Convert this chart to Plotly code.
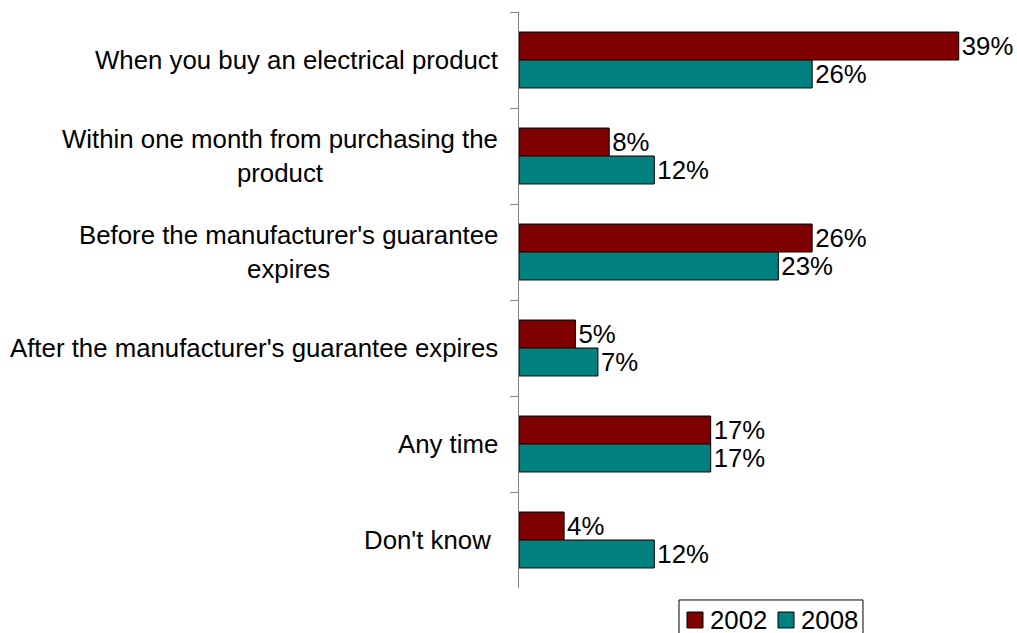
import plotly.graph_objects as go

categories = [
    "When you buy an electrical product",
    "Within one month from purchasing the<br>product",
    "Before the manufacturer's guarantee<br>expires",
    "After the manufacturer's guarantee expires",
    "Any time",
    "Don't know ",
]
keys = ["c1", "c2", "c3", "c4", "c5", "c6"]
series_names = ["2002", "2008"]
values_2002 = [39, 8, 26, 5, 17, 4]
values_2008 = [26, 12, 23, 7, 17, 12]
series_colors = ["#800000", "#008080"]

FONT = "Liberation Sans, Arial, sans-serif"
SIZE = 25.8

fig = go.Figure()
for name, vals, color in zip(series_names, [values_2002, values_2008], series_colors):
    fig.add_trace(go.Bar(
        y=keys, x=vals, name=name, orientation="h",
        marker=dict(color=color, line=dict(color="black", width=1)),
        text=[f"{v}%" for v in vals], textposition="outside",
        textfont=dict(size=SIZE, color="black", family=FONT),
        cliponaxis=False, showlegend=False,
    ))

# category labels, centred line-by-line and right-aligned against the axis
for k, label in zip(keys, categories):
    fig.add_annotation(
        x=0, y=k, xref="x", yref="y", text=label, showarrow=False,
        xanchor="right", yanchor="middle", align="center", xshift=-19,
        font=dict(size=SIZE, color="black", family=FONT),
    )

# boxed legend below the plot area (paper coordinates)
fig.add_shape(type="rect", xref="paper", yref="paper",
              x0=0.3548, x1=0.7627, y0=-0.095, y1=-0.0208,
              line=dict(color="black", width=1), fillcolor="white", layer="above")
legend_x = [0.3725, 0.5743]
sq_w = 0.0355
for name, color, lx in zip(series_names, series_colors, legend_x):
    fig.add_shape(type="rect", xref="paper", yref="paper",
                  x0=lx, x1=lx + sq_w, y0=-0.0694, y1=-0.0417,
                  line=dict(color="black", width=1), fillcolor=color, layer="above")
    fig.add_annotation(x=lx + sq_w + 0.011, y=-0.0556, xref="paper", yref="paper",
                       text=name, showarrow=False, xanchor="left", yanchor="middle",
                       font=dict(size=SIZE, color="black", family=FONT))

fig.update_layout(
    width=1017, height=633,
    margin=dict(l=519, r=47, t=12, b=45),
    paper_bgcolor="white", plot_bgcolor="white",
    barmode="group", bargap=0.417, bargroupgap=0,
    font=dict(family=FONT, size=SIZE, color="black"),
    showlegend=False,
    xaxis=dict(range=[0, 40], showgrid=False, zeroline=False, showline=False,
               showticklabels=False, ticks=""),
    yaxis=dict(autorange="reversed", showgrid=False, zeroline=False,
               showline=True, linecolor="#808080", linewidth=1,
               ticks="outside", tickson="boundaries", ticklen=8,
               tickcolor="#808080", showticklabels=False),
)

fig.write_html("out.html")
